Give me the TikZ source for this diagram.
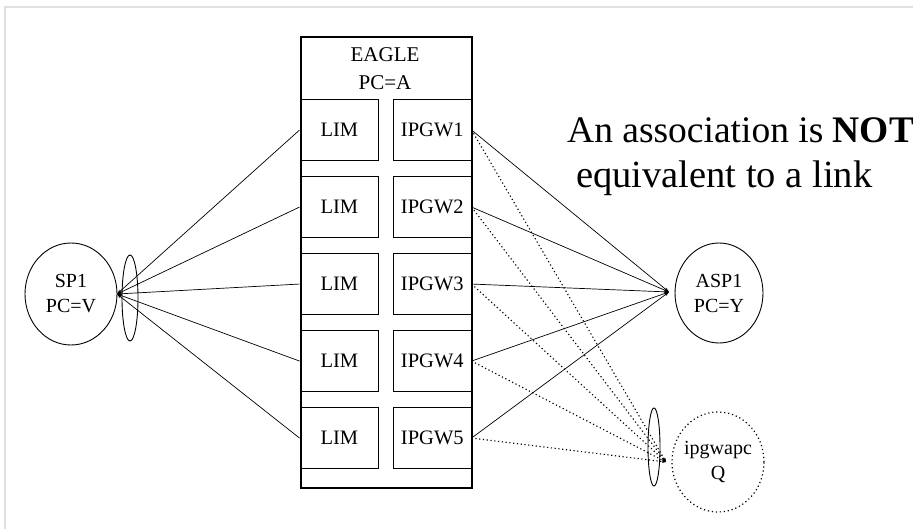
\documentclass[tikz,border=0pt]{standalone}
\usepackage{fontspec}
\setmainfont{Liberation Serif}
\usetikzlibrary{shapes.geometric,arrows.meta}
\begin{document}
\begin{tikzpicture}[x=1pt,y=-1pt,
  box/.style={draw, line width=1.1pt, minimum width=78pt, minimum height=61pt, inner sep=0pt, anchor=north west, font=\fontsize{20.5}{24}\selectfont},
  bigcirc/.style={draw, ellipse, line width=0.9pt, inner sep=0pt, align=center, font=\fontsize{20}{25}\selectfont},
  lens/.style={draw, ellipse, line width=0.9pt, inner sep=0pt},
  solidlink/.style={line width=0.7pt, -{Stealth[length=5pt,width=3pt]}},
  dotlink/.style={line width=1.1pt, dash pattern=on 1.2pt off 2.6pt, -{Stealth[length=4pt,width=3pt]}},
  frameline/.style={draw=black!12, line width=1.2pt}
]
\useasboundingbox (0,0) rectangle (913,529);
% faint frame
\draw[frameline] (913,7) -- (5,7) -- (5,529);

% EAGLE outer box
\node[draw, line width=2pt, minimum width=171pt, minimum height=451pt, inner sep=0pt, anchor=north west] (eagle) at (299.5,36) {};
\node[align=center, font=\fontsize{21}{28}\selectfont] (eaglelbl) at (385,69) {EAGLE\\PC=A};

% LIM / IPGW boxes
\foreach \i/\t in {1/99,2/176,3/253,4/330,5/407}{
  \node[box, minimum width=78.5pt] (lim\i) at (299.5,\t) {LIM};
  \node[box, minimum width=77.5pt] (ipgw\i) at (393,\t) {IPGW\i};
}

% SP1
\node[bigcirc, minimum width=92pt, minimum height=102pt] (sp1) at (71,294) {SP1\\PC=V};
\node[lens, minimum width=16pt, minimum height=86pt] (lensL) at (130,298) {};
\coordinate (spc) at (117,294);

% ASP1
\node[bigcirc, minimum width=88pt, minimum height=100pt] (asp1) at (719,293) {ASP1\\PC=Y};
\coordinate (aspc) at (669,292);

% ipgwapc
\node[bigcirc, draw=none, minimum width=92pt, minimum height=100pt] (ipgwapc) at (718,462) {ipgwapc\\Q};
\draw[line width=1.2pt, dash pattern=on 1.2pt off 2.8pt] (ipgwapc.center) ellipse [x radius=46pt, y radius=50pt];
\node[lens, minimum width=12pt, minimum height=78pt] (lensR) at (654,447) {};
\coordinate (qc) at (666,462);

% connectors
\foreach \i in {1,...,5}{
  \draw[solidlink] (lim\i.west) -- (spc);
  \draw[solidlink] (ipgw\i.east) -- (aspc);
  \draw[dotlink] (ipgw\i.east) -- (qc);
}

% statement
\node[anchor=base west, inner sep=0pt, font=\fontsize{37.5}{44}\selectfont] (stmt1) at (567,143) {An association is \textbf{NOT}};
\node[anchor=base west, inner sep=0pt, font=\fontsize{38.5}{44}\selectfont] (stmt2) at (576,188) {equivalent to a link};
\end{tikzpicture}
\end{document}
